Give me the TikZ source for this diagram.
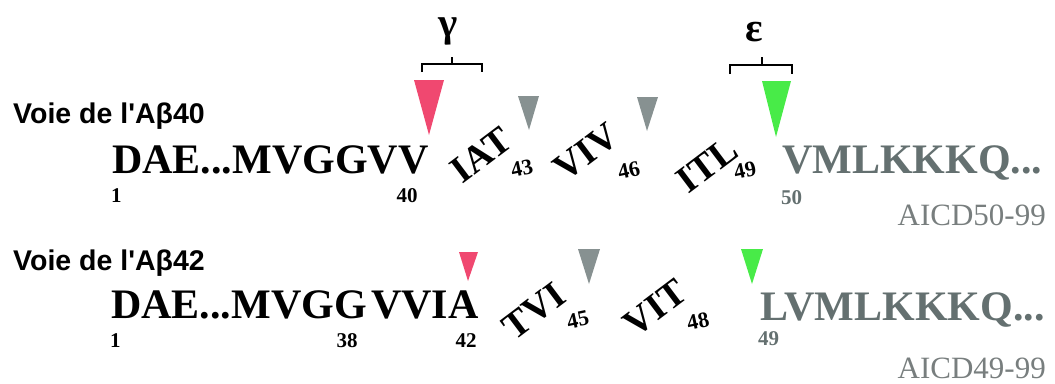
\documentclass[tikz,border=0pt]{standalone}
\usepackage{fontspec}
\setmainfont{Liberation Serif}
\newfontfamily\labelfont{Liberation Sans}
\usetikzlibrary{positioning}
\definecolor{cutpink}{RGB}{240, 72, 112}
\definecolor{cutgray}{RGB}{135, 145, 145}
\definecolor{cutgreen}{RGB}{72, 235, 72}
\definecolor{aicdseq}{RGB}{100, 112, 112}
\definecolor{aicdname}{RGB}{120, 126, 126}
\tikzset{
    % Peptide sequences
    seq/.style={
        font=\fontsize{42}{45}\selectfont\bfseries,
        inner sep=0pt, anchor=base west
    },
    % Fragments released between cuts
    frag/.style={
        font=\fontsize{38}{40}\selectfont\bfseries,
        inner sep=0pt, rotate=37
    },
    % Residue numbers
    resnum/.style={
        font=\fontsize{21}{22}\selectfont\bfseries,
        inner sep=0pt, anchor=base
    },
    % Numbers after a fragment
    fragnum/.style={
        font=\fontsize{22}{23}\selectfont\bfseries,
        inner sep=0pt, rotate=12
    },
    % Pathway labels
    pathway/.style={
        font=\labelfont\fontsize{28.5}{30}\selectfont\bfseries,
        inner sep=0pt, anchor=base west
    },
    % AICD names
    aicd/.style={
        font=\fontsize{31}{33}\selectfont, text=aicdname,
        inner sep=0pt, anchor=base east
    },
    % Secretase symbols
    secretase/.style={
        font=\fontsize{41}{44}\selectfont\bfseries, inner sep=0pt
    },
    % Cleavage brackets
    bracket/.style={line width=1.4pt}
}

\begin{document}
\begin{tikzpicture}[x=1pt, y=-1pt]

    \useasboundingbox (0,0) rectangle (1055,383);

    % Secretases
    \node[secretase] (gam) at (448,31) {γ};
    \node[secretase] (eps) at (754,32) {ε};
    \draw[bracket] (422,72) -- (422,64) -- (482,64) -- (482,72);
    \draw[bracket] (452,64) -- (452,57);
    \draw[bracket] (730,74) -- (730,65) -- (792,65) -- (792,74);
    \draw[bracket] (762,65) -- (762,57);

    % Voie de l'Abeta40
    \node[pathway] (voie40) at (13,123) {Voie de l'Aβ40};
    \node[seq] (dae40) at (112,173) {DAE...MVGGVV};
    \node[resnum, anchor=base west] (n1a) at (111,202) {1};
    \node[resnum] (n40) at (407,202) {40};

    \node[frag] (iat) at (481,155) {IAT};
    \node[fragnum] (n43) at (522,168) {43};
    \node[frag] (viv) at (586,152) {VIV};
    \node[fragnum] (n46) at (629,170) {46};
    \node[frag] (itl) at (707,165) {ITL};
    \node[fragnum] (n49a) at (745,170) {49};

    \node[seq, text=aicdseq] (aicd50) at (782,173) {VMLKKKQ...};
    \node[resnum, anchor=base west, text=aicdseq] (n50) at (781,204) {50};
    \node[aicd] (name50) at (1046,225) {AICD50-99};

    \fill[cutpink] (414,80) -- (444,80) -- (429,135) -- cycle;
    \fill[cutgray] (518,96) -- (539,96) -- (529,130) -- cycle;
    \fill[cutgray] (637,97) -- (658,97) -- (647,131) -- cycle;
    \fill[cutgreen] (762,81) -- (791,81) -- (776,137) -- cycle;

    % Voie de l'Abeta42
    \node[pathway] (voie42) at (13,270) {Voie de l'Aβ42};
    \node[seq] (dae42) at (111,318) {DAE...MVGG};
    \node[seq] (vvia) at ([xshift=4]dae42.base east) {VVIA};
    \node[resnum, anchor=base west] (n1b) at (110,347) {1};
    \node[resnum] (n38) at (347,347) {38};
    \node[resnum] (n42) at (466,347) {42};

    \node[frag] (tvi) at (534,311) {TVI};
    \node[fragnum] (n45) at (578,320) {45};
    \node[frag] (vit) at (655,308) {VIT};
    \node[fragnum] (n48) at (698,321) {48};

    \node[seq, text=aicdseq] (aicd49) at (760,320) {LVMLKKKQ...};
    \node[resnum, anchor=base west, text=aicdseq] (n49b) at (758,345) {49};
    \node[aicd] (name49) at (1046,378) {AICD49-99};

    \fill[cutpink] (459,252) -- (478,252) -- (468,281) -- cycle;
    \fill[cutgray] (578,249) -- (600,249) -- (589,284) -- cycle;
    \fill[cutgreen] (741,249) -- (763,249) -- (752,284) -- cycle;

\end{tikzpicture}
\end{document}
